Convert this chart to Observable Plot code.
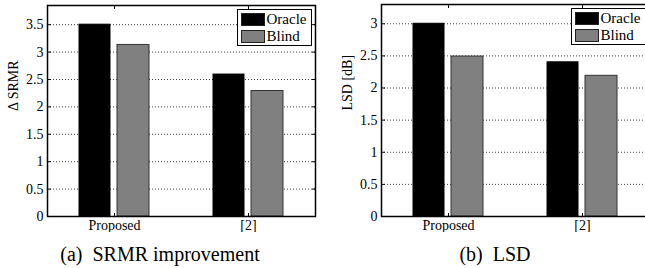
<!DOCTYPE html>
<html>
<head>
<meta charset="utf-8">
<script src="https://cdn.jsdelivr.net/npm/d3@7"></script>
<script src="https://cdn.jsdelivr.net/npm/@observablehq/plot@0.6"></script>
<style>
  html, body { margin: 0; padding: 0; background: #fff; width: 645px; height: 268px; overflow: hidden; position: relative; font-family: "Liberation Serif", "Times New Roman", Times, serif; }
  .panel { position: absolute; top: 0; height: 232px; }
  .panel svg { max-width: none !important; display: block; }
  .legend { position: absolute; border: 1.5px solid #000; background: #fff; box-sizing: border-box; font-size: 15px; }
  .legend .row { position: absolute; left: 3px; height: 14px; display: flex; align-items: center; }
  .legend .sw { width: 24px; height: 13px; box-sizing: border-box; border: 1px solid #222; margin-right: 2px; }
  .caption { position: absolute; font-size: 20px; white-space: pre; transform: translateX(-50%); line-height: 1; }
</style>
</head>
<body>
<div id="pa" class="panel" style="left:0px; width:320px"></div>
<div id="pb" class="panel" style="left:333px; width:330px"></div>
<div id="capA" class="caption" style="left:160px; top:244px;"></div>
<div id="capB" class="caption" style="left:495px; top:244px;"></div>
<script>
// ---- data ----
const categories = ["Proposed", "[2]"];
const seriesNames = ["Oracle", "Blind"];
const seriesColors = ["#000000", "#808080"];
const srmrOracle = [3.50, 2.59];
const srmrBlind = [3.13, 2.29];
const lsdOracle = [3.00, 2.40];
const lsdBlind = [2.49, 2.19];
const srmrTicks = [0, 0.5, 1, 1.5, 2, 2.5, 3, 3.5];
const lsdTicks = [0, 0.5, 1, 1.5, 2, 2.5, 3];
const captions = ["(a)  SRMR improvement", "(b)  LSD"];
const yLabels = ["\u0394 SRMR", "LSD [dB]"];

function rows(oracle, blind) {
  const out = [];
  categories.forEach((c, i) => {
    out.push({category: c, series: seriesNames[0], value: oracle[i]});
    out.push({category: c, series: seriesNames[1], value: blind[i]});
  });
  return out;
}

function chart({data, ticks, yMax, label, width, marginLeft, marginRight, marginTop}) {
  const fmt = d => String(d);
  const blank = () => "";
  return Plot.plot({
    width, height: 232,
    marginLeft, marginRight, marginTop, marginBottom: 16,
    style: {fontFamily: "'Liberation Serif', 'Times New Roman', Times, serif", fontSize: "14px", color: "#000", background: "#fff", maxWidth: "none"},
    x: {type: "band", domain: categories, padding: 0, label: null},
    y: {domain: [0, yMax], label: null},
    marks: [
      Plot.gridY(ticks.filter(t => t > 0), {stroke: "#000", strokeOpacity: 0.75, strokeDasharray: "1,2", strokeWidth: 1}),
      Plot.barY(data.filter(d => d.series === seriesNames[0]), {x: "category", y: "value", fill: seriesColors[0], stroke: "#000", strokeWidth: 1, insetLeft: 32, insetRight: 71}),
      Plot.barY(data.filter(d => d.series === seriesNames[1]), {x: "category", y: "value", fill: seriesColors[1], stroke: "#333", strokeWidth: 1, insetLeft: 70, insetRight: 32}),
      Plot.axisY({ticks, tickSize: 0, tickPadding: 4, tickFormat: fmt, label: null, fontSize: 14}),
      Plot.axisY({ticks, tickSize: 4, dx: 4, tickFormat: blank, label: null}),
      Plot.axisY({anchor: "right", ticks, tickSize: 4, dx: -4, tickFormat: blank, label: null}),
      Plot.axisX({anchor: "bottom", tickSize: 0, tickPadding: 4, label: null, fontSize: 14}),
      Plot.axisX({anchor: "bottom", tickSize: 3, dy: -3, tickFormat: blank, label: null}),
      Plot.axisX({anchor: "top", tickSize: 3, dy: 3, tickFormat: blank, label: null}),
      Plot.text([label], {text: d => d, frameAnchor: "left", dx: -34, rotate: -90, fontSize: 14, fill: "#000"}),
      Plot.frame({stroke: "#000", strokeWidth: 1.5})
    ]
  });
}

function legend(left, top) {
  const L = document.createElement("div");
  L.className = "legend";
  L.style.left = left + "px";
  L.style.top = top + "px";
  L.style.width = "75px";
  L.style.height = "37px";
  seriesNames.forEach((s, i) => {
    const r = document.createElement("div");
    r.className = "row";
    r.style.top = (3 + i * 16.7) + "px";
    const sw = document.createElement("div");
    sw.className = "sw";
    sw.style.background = seriesColors[i];
    const t = document.createElement("span");
    t.textContent = s;
    r.appendChild(sw); r.appendChild(t);
    L.appendChild(r);
  });
  return L;
}

const pa = document.getElementById("pa");
pa.appendChild(chart({data: rows(srmrOracle, srmrBlind), ticks: srmrTicks, yMax: 3.85, label: yLabels[0], width: 320, marginLeft: 47, marginRight: 5, marginTop: 5}));
pa.appendChild(legend(236.5, 8.5));

const pb = document.getElementById("pb");
pb.appendChild(chart({data: rows(lsdOracle, lsdBlind), ticks: lsdTicks, yMax: 3.3, label: yLabels[1], width: 330, marginLeft: 48, marginRight: 14, marginTop: 4}));
pb.appendChild(legend(570.5 - 333, 7.5));

document.getElementById("capA").textContent = captions[0];
document.getElementById("capB").textContent = captions[1];
</script>
</body>
</html>
